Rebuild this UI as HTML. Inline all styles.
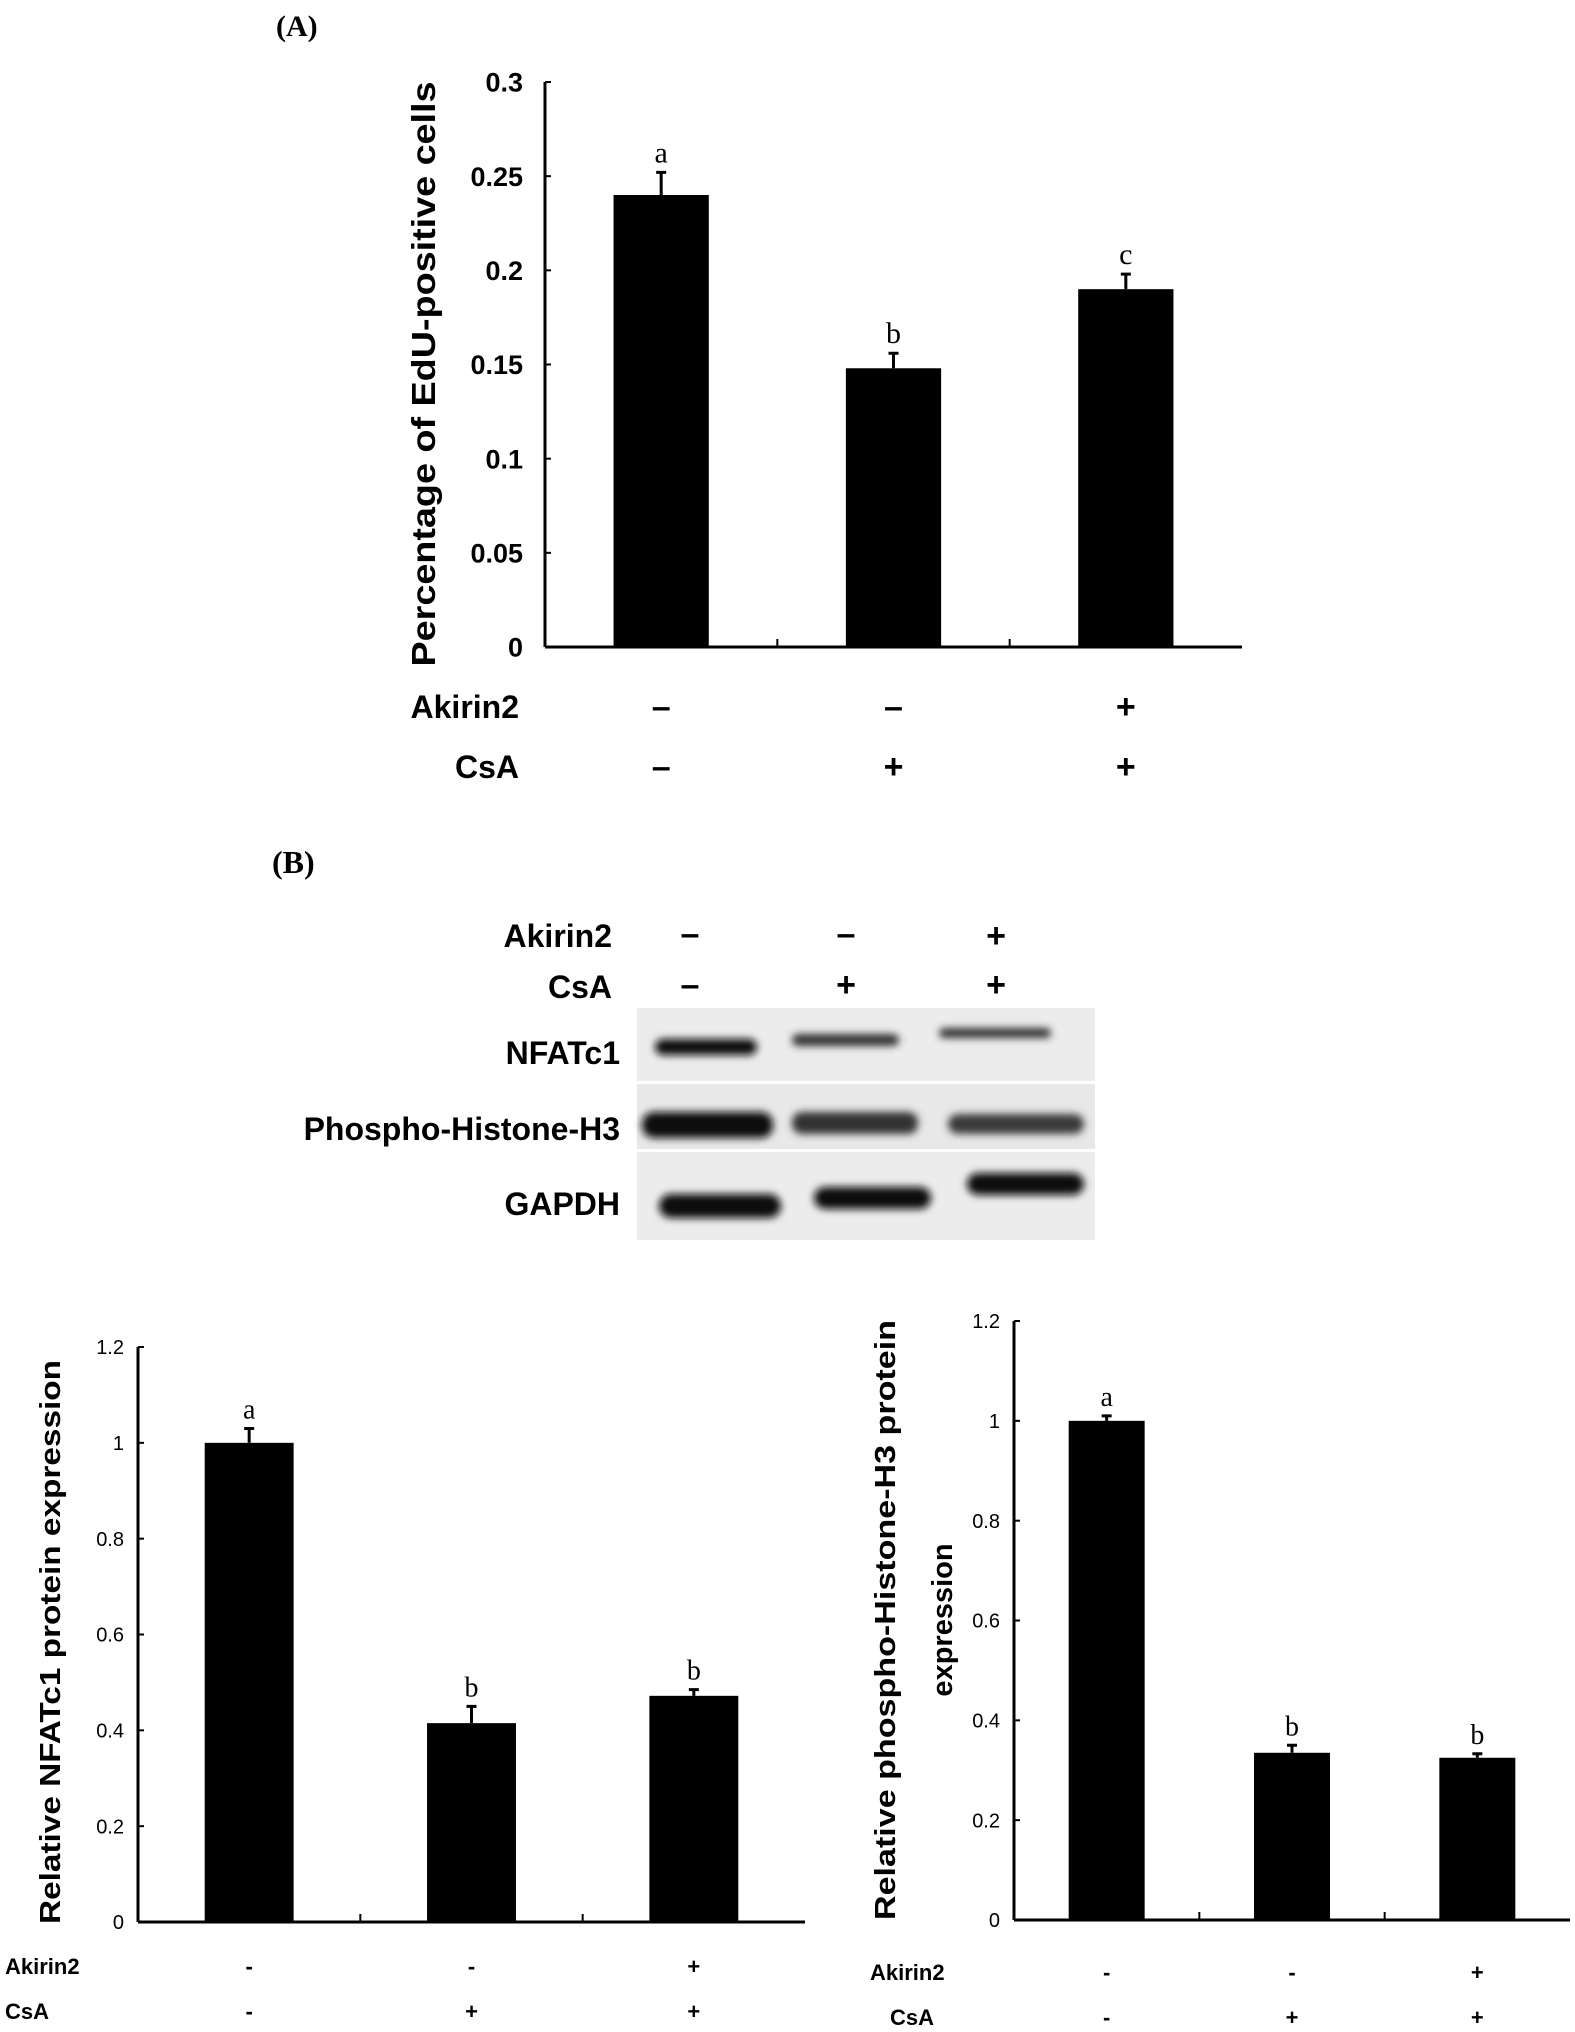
<!DOCTYPE html>
<html><head><meta charset="utf-8"><style>
body{margin:0;background:#fff}
svg{display:block}
text{font-family:"Liberation Sans",Arial,sans-serif}
.b{font-weight:bold}
.serif{font-family:"Liberation Serif",serif}
</style></head><body>
<svg id="fig" width="1575" height="2032" viewBox="0 0 1575 2032" xmlns="http://www.w3.org/2000/svg">
<defs>
<filter id="blur" x="-10%" y="-50%" width="120%" height="200%"><feGaussianBlur stdDeviation="4"/></filter>
</defs>
<text x="276" y="36" class="serif b" font-size="30">(A)</text>
<g id="chartA"></g>
<text x="272" y="873" class="serif b" font-size="32">(B)</text>
<g>
  <text x="612" y="947" text-anchor="end" class="b" font-size="32">Akirin2</text>
  <text x="612" y="998" text-anchor="end" class="b" font-size="32">CsA</text>
  <g class="b" font-size="34" text-anchor="middle">
    <text x="690" y="945">–</text><text x="846" y="945">–</text><text x="996" y="947">+</text>
    <text x="690" y="996">–</text><text x="846" y="996">+</text><text x="996" y="996">+</text>
  </g>
  <rect x="637" y="1008" width="458" height="73" fill="#ececec"/>
  <rect x="637" y="1084" width="458" height="65" fill="#e8e8e8"/>
  <rect x="637" y="1152" width="458" height="88" fill="#ececec"/>
  <g filter="url(#blur)" fill="#111">
    <rect x="655" y="1039" width="102" height="16" rx="8"/>
    <rect x="792" y="1034" width="107" height="12" rx="6" fill="#333"/>
    <rect x="939" y="1028" width="112" height="10" rx="5" fill="#333"/>
    <rect x="642" y="1112" width="131" height="26" rx="12"/>
    <rect x="792" y="1112" width="126" height="22" rx="10" fill="#333"/>
    <rect x="948" y="1114" width="136" height="20" rx="10" fill="#3a3a3a"/>
    <rect x="659" y="1194" width="122" height="24" rx="12"/>
    <rect x="814" y="1187" width="117" height="22" rx="11"/>
    <rect x="967" y="1173" width="117" height="22" rx="11"/>
  </g>
  <text x="620" y="1064" text-anchor="end" class="b" font-size="32">NFATc1</text>
  <text x="620" y="1140" text-anchor="end" class="b" font-size="32">Phospho-Histone-H3</text>
  <text x="620" y="1215" text-anchor="end" class="b" font-size="32">GAPDH</text>
</g>
<g id="chartB"></g>
<g id="chartC"></g>
</svg>
<script>
const NS="http://www.w3.org/2000/svg";
// Chart A data
const aValues=[0.24,0.148,0.19];
const aErrors=[0.012,0.008,0.008];
const aLetters=["a","b","c"];
const aTicks=[0,0.05,0.1,0.15,0.2,0.25,0.3];
const aTickLabels=["0","0.05","0.1","0.15","0.2","0.25","0.3"];
const aAkirin=["–","–","+"];
const aCsA=["–","+","+"];
// Chart B data (NFATc1)
const bValues=[1.0,0.415,0.472];
const bErrors=[0.03,0.035,0.013];
const bLetters=["a","b","b"];
const bTicks=[0,0.2,0.4,0.6,0.8,1,1.2];
const bTickLabels=["0","0.2","0.4","0.6","0.8","1","1.2"];
// Chart C data (phospho-H3)
const cValues=[1.0,0.335,0.325];
const cErrors=[0.01,0.015,0.008];
const cLetters=["a","b","b"];
const cTicks=[0,0.2,0.4,0.6,0.8,1,1.2];
const cTickLabels=["0","0.2","0.4","0.6","0.8","1","1.2"];
const signsAkirin=["-","-","+"];
const signsCsA=["-","+","+"];

function mk(p,tag,at,txt){const e=document.createElementNS(NS,tag);for(const k in at)e.setAttribute(k,at[k]);if(txt!==undefined)e.textContent=txt;p.appendChild(e);return e;}

function chart(g,o){
  const y=v=>o.y0-(v-o.min)/(o.max-o.min)*(o.y0-o.y1);
  const band=(o.x1-o.x0)/o.values.length;
  const cx=i=>o.x0+band*(i+0.5);
  const ax=mk(g,"line",{x1:o.x0,y1:o.y0,x2:o.x1,y2:o.y0,stroke:"#000","stroke-width":o.sw});
  
  
  const ay=mk(g,"line",{x1:o.x0,y1:o.y0,x2:o.x0,y2:y(o.max),stroke:"#000","stroke-width":o.sw});
  
  
  o.ticks.forEach((t,i)=>{
    mk(g,"line",{x1:o.x0,y1:y(t),x2:o.x0+6,y2:y(t),stroke:"#000","stroke-width":2});
    const tl=mk(g,"text",{x:o.x0-o.tickGap,y:y(t)+o.tickFs*0.36,"text-anchor":"end","font-size":o.tickFs,"class":o.tickBold?"b":""},o.tickLabels[i]);
    
    
  });
  for(let i=1;i<o.values.length;i++){
    const x=o.x0+band*i;
    mk(g,"line",{x1:x,y1:o.y0,x2:x,y2:o.y0-8,stroke:"#000","stroke-width":2});
  }
  o.values.forEach((v,i)=>{
    const w=band*o.bw;
    const r=mk(g,"rect",{x:cx(i)-w/2,y:y(v),width:w,height:o.y0-y(v),fill:"#000"});
    
    
    const top=y(v+o.errors[i]);
    const e=mk(g,"path",{d:`M${cx(i)} ${y(v)}V${top}M${cx(i)-5} ${top}H${cx(i)+5}`,stroke:"#000","stroke-width":3,fill:"none"});
    
    
    const l=mk(g,"text",{x:cx(i),y:top-o.letGap,"text-anchor":"middle","font-size":o.letFs,"class":"serif"},o.letters[i]);
    
    
    const s1=mk(g,"text",{x:cx(i),y:o.row1,"text-anchor":"middle","font-size":o.signFs,"class":"b"},o.s1[i]);
    
    
    const s2=mk(g,"text",{x:cx(i),y:o.row2,"text-anchor":"middle","font-size":o.signFs,"class":"b"},o.s2[i]);
    
    
  });
  o.title.forEach((t,k)=>{
    const tt=mk(g,"text",{x:0,y:0,"text-anchor":"middle","font-size":o.titleFs,"class":"b",transform:`translate(${o.titleX[k]},${o.titleY}) rotate(-90)`},t);
    if(o.titleLen[k]){tt.setAttribute("textLength",o.titleLen[k]);tt.setAttribute("lengthAdjust","spacingAndGlyphs");}
    
    
  });
  const r1=mk(g,"text",{x:o.labX,y:o.row1,"text-anchor":o.labAnchor,"font-size":o.labFs,"class":"b"},"Akirin2");
  
  
  const r2=mk(g,"text",{x:o.labX2,y:o.row2,"text-anchor":o.labAnchor,"font-size":o.labFs,"class":"b"},"CsA");
  
  
}
chart(document.getElementById("chartA"),{x0:545,x1:1242,y0:647,y1:82,min:0,max:0.3,values:aValues,errors:aErrors,letters:aLetters,ticks:aTicks,tickLabels:aTickLabels,tickFs:27,tickBold:true,tickGap:22,bw:0.41,sw:3,letFs:30,letGap:10,s1:aAkirin,s2:aCsA,row1:718,row2:778,signFs:34,title:["Percentage of EdU-positive cells"],titleX:[435],titleY:374,titleLen:[585],titleFs:33,labX:519,labX2:519,labAnchor:"end",labFs:32});
chart(document.getElementById("chartB"),{x0:138,x1:805,y0:1922,y1:1347,min:0,max:1.2,values:bValues,errors:bErrors,letters:bLetters,ticks:bTicks,tickLabels:bTickLabels,tickFs:20,tickBold:false,tickGap:14,bw:0.4,sw:3,letFs:28,letGap:10,s1:signsAkirin,s2:signsCsA,row1:1974,row2:2019,signFs:22,title:["Relative NFATc1 protein expression"],titleX:[60],titleY:1642,titleLen:[564],titleFs:29,labX:5,labX2:5,labAnchor:"start",labFs:22});
chart(document.getElementById("chartC"),{x0:1014,x1:1570,y0:1920,y1:1321,min:0,max:1.2,values:cValues,errors:cErrors,letters:cLetters,ticks:cTicks,tickLabels:cTickLabels,tickFs:20,tickBold:false,tickGap:14,bw:0.41,sw:3,letFs:28,letGap:10,s1:signsAkirin,s2:signsCsA,row1:1980,row2:2025,signFs:22,title:["Relative phospho-Histone-H3 protein","expression"],titleX:[895,952],titleY:1620,titleLen:[600,0],titleFs:29,labX:870,labX2:890,labAnchor:"start",labFs:22});
</script>
</body></html>
